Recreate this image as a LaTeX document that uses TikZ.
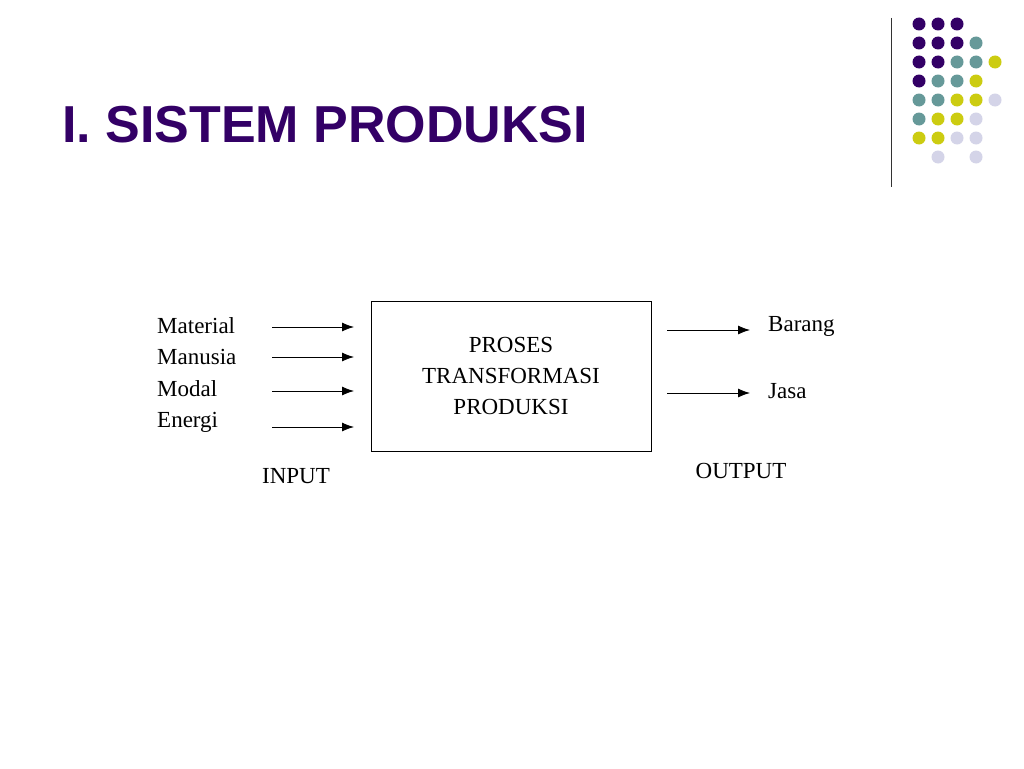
\documentclass[tikz,border=0pt]{standalone}
\usepackage{fontspec}
\setmainfont{Liberation Serif}
\newfontfamily\titlefont{Liberation Sans}
\usetikzlibrary{arrows.meta}
\definecolor{dpurple}{HTML}{330066}
\definecolor{dteal}{HTML}{669999}
\definecolor{dyellow}{HTML}{CCCC11}
\definecolor{dlav}{HTML}{D4D4E8}
\tikzset{
  lbl/.style={anchor=west, font=\fontsize{23}{23}\selectfont, inner sep=0pt},
  flow/.style={thick, -{Latex[length=12pt,width=9pt]}},
}
\begin{document}
\begin{tikzpicture}[x=1pt,y=-1pt]
\useasboundingbox[fill=white] (0,0) rectangle (1024,768);
% title
\node[anchor=base west, inner sep=0pt, text=dpurple, font=\titlefont\bfseries\fontsize{52}{52}\selectfont] (title) at (62,142) {I. SISTEM PRODUKSI};
\draw[thick, black!80] (891,18) -- (891,187);
% dots
\foreach \row/\col/\clr in {0/0/dpurple,0/1/dpurple,0/2/dpurple,
  1/0/dpurple,1/1/dpurple,1/2/dpurple,1/3/dteal,
  2/0/dpurple,2/1/dpurple,2/2/dteal,2/3/dteal,2/4/dyellow,
  3/0/dpurple,3/1/dteal,3/2/dteal,3/3/dyellow,
  4/0/dteal,4/1/dteal,4/2/dyellow,4/3/dyellow,4/4/dlav,
  5/0/dteal,5/1/dyellow,5/2/dyellow,5/3/dlav,
  6/0/dyellow,6/1/dyellow,6/2/dlav,6/3/dlav,
  7/1/dlav,7/3/dlav}
  \fill[\clr] ({919+19*\col},{24+19*\row}) circle (6.5);
% diagram
\node[draw, thick, minimum width=280, minimum height=150, inner sep=0pt, align=center,
  font=\fontsize{23}{31}\selectfont] (proc) at (511,376) {PROSES\\TRANSFORMASI\\PRODUKSI};
\node[lbl] (material) at (157,326) {Material};
\node[lbl] (manusia) at (157,357) {Manusia};
\node[lbl] (modal) at (157,389) {Modal};
\node[lbl] (energi) at (157,422) {Energi};
\foreach \n/\y in {material/327,manusia/357,modal/391,energi/427}{
  \coordinate (\n s) at (272,\y);
  \coordinate (\n e) at (354,\y);
  \draw[flow] (\n s) -- (\n e);
}
\node[lbl] (barang) at (768,326) {Barang};
\node[lbl] (jasa) at (768,391) {Jasa};
\foreach \n/\y in {barang/330,jasa/393}{
  \coordinate (\n s) at (667,\y);
  \coordinate (\n e) at (750,\y);
  \draw[flow] (\n s) -- (\n e);
}
\node[font=\fontsize{23}{23}\selectfont] (input) at (296,476) {INPUT};
\node[font=\fontsize{23}{23}\selectfont] (output) at (741,471) {OUTPUT};
\end{tikzpicture}
\end{document}
